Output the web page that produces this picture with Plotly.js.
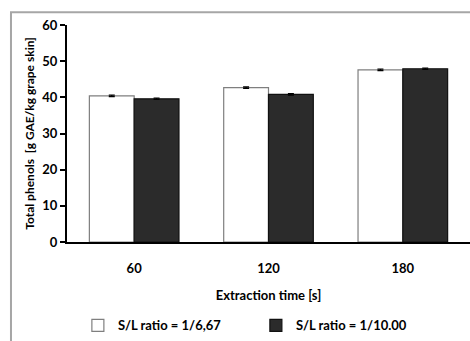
<!DOCTYPE html>
<html><head><meta charset="utf-8">
<script src="https://cdn.plot.ly/plotly-3.0.1.min.js"></script>
<style>html,body{margin:0;padding:0;background:#fff;}#chart{width:470px;height:341px;}</style>
</head><body><div id="chart"></div>
<script>
const categories = ['60', '120', '180'];
const seriesNames = ['S/L ratio = 1/6,67', 'S/L ratio = 1/10.00'];
const ratio667 = [40.4, 42.7, 47.6];
const ratio1000 = [39.6, 40.8, 47.9];
const err667 = [0.2, 0.2, 0.2];
const err1000 = [0.2, 0.2, 0.2];
const yTicks = [0, 10, 20, 30, 40, 50, 60];

const fam = 'Lato, "Open Sans", sans-serif';
const font = {family: fam, color: '#000', size: 13, weight: 'bold'};

const traces = [
  {type: 'bar', name: seriesNames[0], x: categories, y: ratio667,
   marker: {color: '#ffffff', line: {color: '#7f7f7f', width: 1.2}},
   error_y: {type: 'data', array: err667, visible: true, color: '#000', thickness: 1.2, width: 3}},
  {type: 'bar', name: seriesNames[1], x: categories, y: ratio1000,
   marker: {color: '#2b2b2b', line: {color: '#111111', width: 1.2}},
   error_y: {type: 'data', array: err1000, visible: true, color: '#000', thickness: 1.2, width: 3}}
];

const layout = {
  width: 470, height: 341,
  margin: {l: 67, r: 0, t: 25, b: 97},
  paper_bgcolor: '#fff', plot_bgcolor: '#fff',
  font: font,
  bargap: 0.333, bargroupgap: 0,
  showlegend: true,
  legend: {orientation: 'h', x: 0.027, xanchor: 'left', y: -0.315, yanchor: 'top',
           font: {family: fam, size: 13, weight: 'bold', color: '#000'},
           entrywidth: 133, entrywidthmode: 'pixels', itemwidth: 30, tracegroupgap: 0},
  xaxis: {type: 'category', range: [-0.5, 2.5], showline: true, linecolor: '#000', linewidth: 2,
          ticks: '', showgrid: false, zeroline: false, ticklabelstandoff: 13,
          tickfont: {family: fam, size: 13, weight: 'bold'},
          title: {text: 'Extraction time [s]', font: {family: fam, size: 13, weight: 'bold'}, standoff: 16}},
  yaxis: {range: [0, 60], tickvals: yTicks, showline: true, linecolor: '#000', linewidth: 2,
          ticks: 'outside', ticklen: 5, tickwidth: 2, tickcolor: '#000', showgrid: false, zeroline: false,
          tickfont: {family: fam, size: 13, weight: 'bold'},
          title: {text: 'Total phenols  [g GAE/kg grape skin]', font: {family: fam, size: 12, weight: 'bold'}, standoff: 5}},
  shapes: [
    {type: 'path', xref: 'paper', yref: 'paper', path: 'M -0.139,-0.5 L -0.139,1.059 L 1.05,1.059',
     line: {color: '#a6a6a6', width: 2}}
  ]
};

Plotly.newPlot('chart', traces, layout, {displayModeBar: false, staticPlot: true});
</script></body></html>
